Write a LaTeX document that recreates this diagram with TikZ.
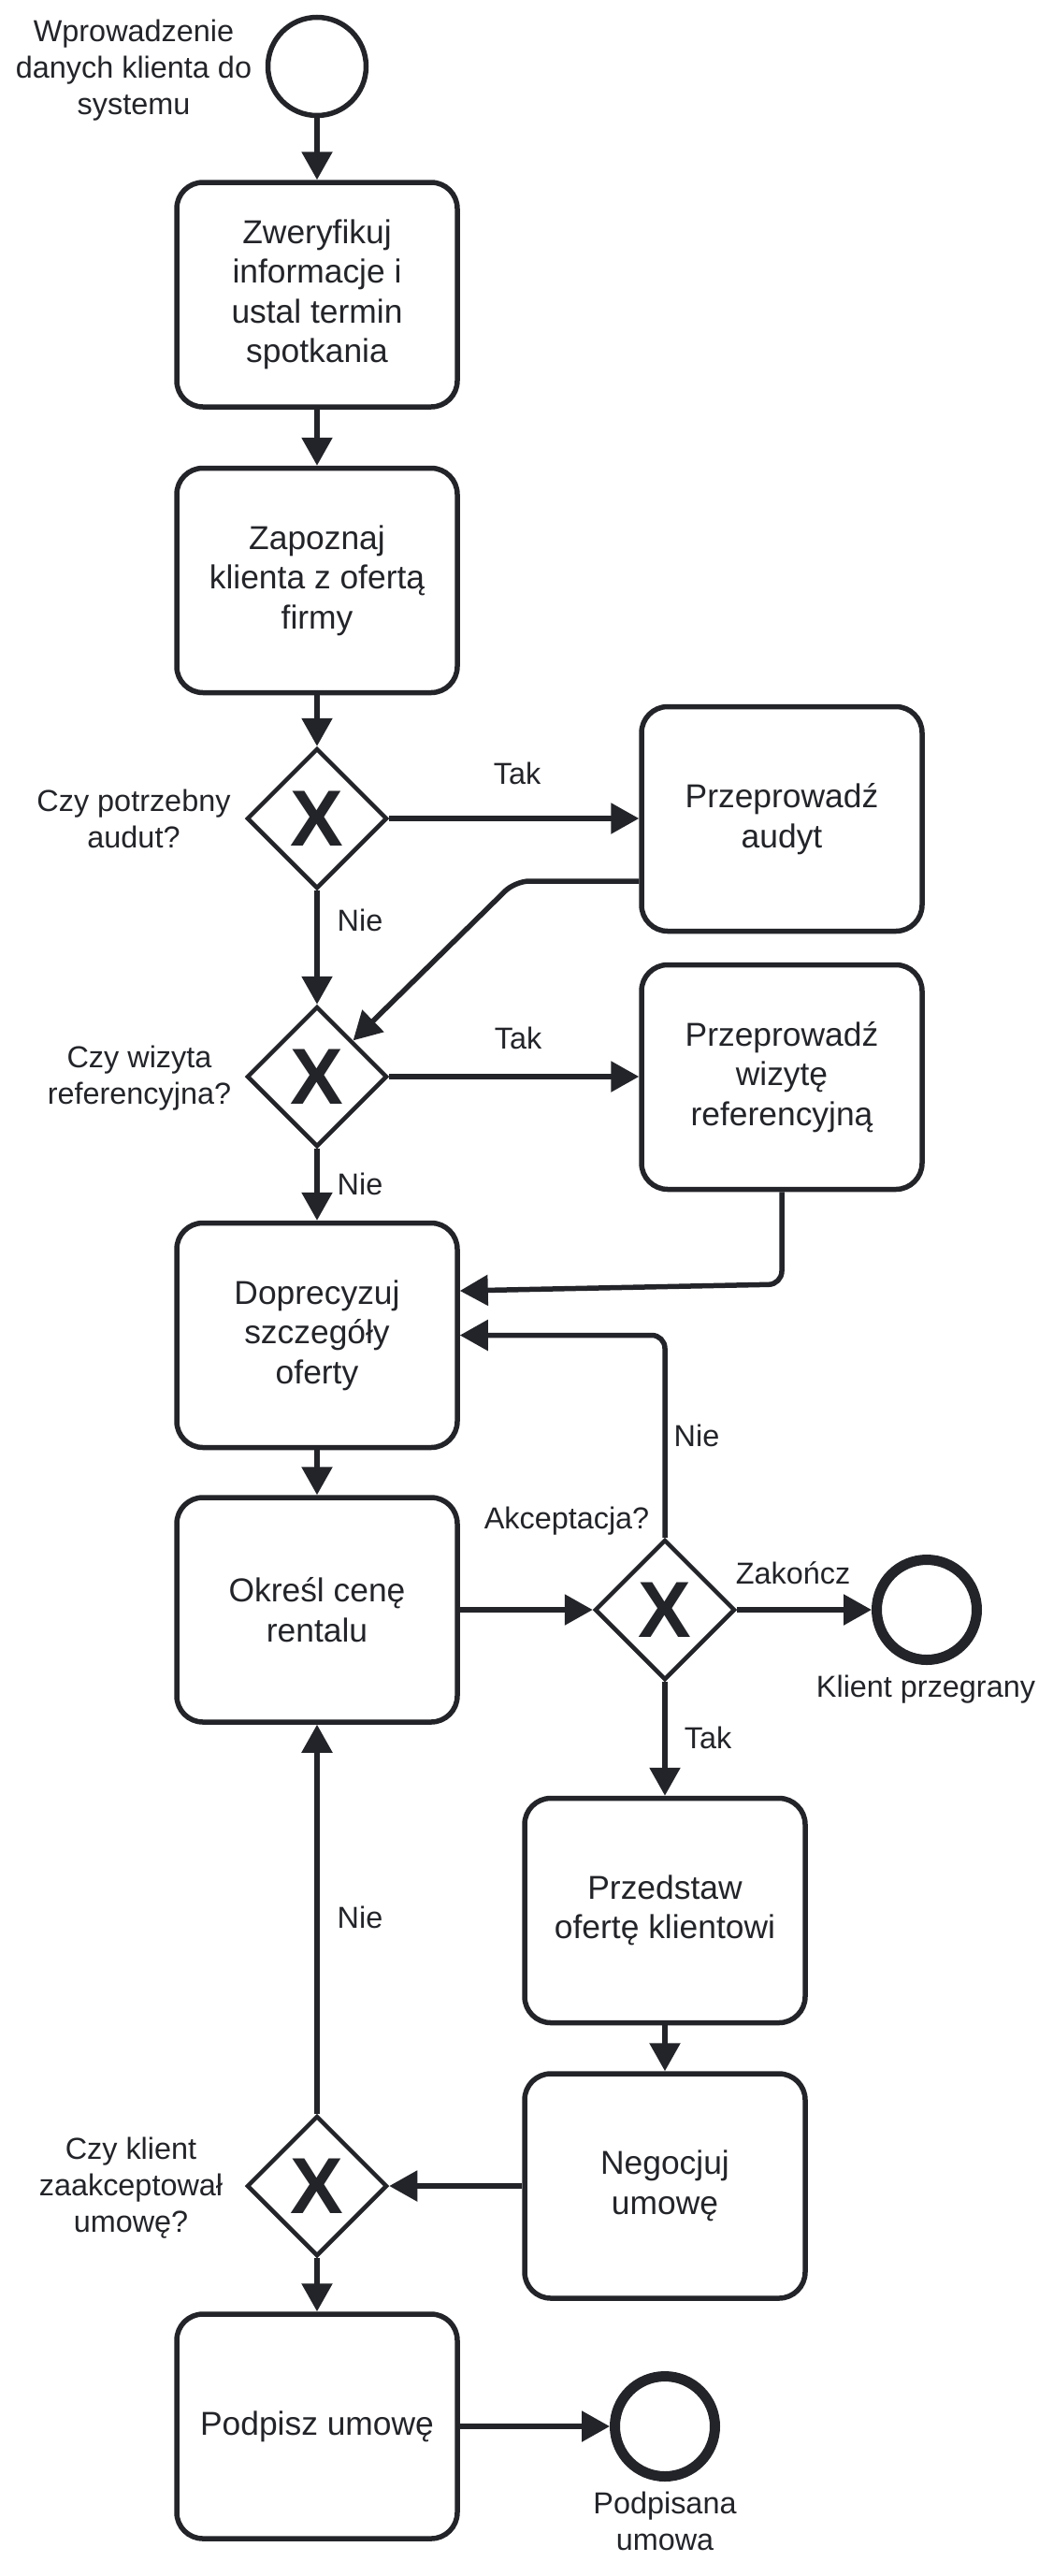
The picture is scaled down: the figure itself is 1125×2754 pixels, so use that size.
\documentclass[tikz,border=0pt]{standalone}
\usepackage{fontspec}
\setmainfont{Liberation Sans}
\usetikzlibrary{shapes.geometric,arrows.meta}
\definecolor{ink}{RGB}{35,36,41}
\tikzset{
  task/.style={draw=ink, line width=5.5pt, rounded corners=28pt, minimum width=300pt,
    minimum height=240pt, inner sep=0pt, align=center, text=ink,
    font=\fontsize{35.4}{42.5}\selectfont},
  gate/.style={draw=ink, line width=4.5pt, diamond, aspect=1, minimum width=150pt,
    minimum height=150pt, inner sep=0pt, text=ink,
    font=\fontsize{85}{85}\selectfont\bfseries},
  startev/.style={draw=ink, circle, line width=5.5pt, minimum size=105pt, inner sep=0pt},
  endev/.style={draw=ink, circle, line width=11pt, minimum size=107pt, inner sep=0pt},
  lbl/.style={text=ink, align=center, inner sep=0pt, font=\fontsize{32.4}{38.9}\selectfont},
  flow/.style={draw=ink, line width=5.5pt, -{Triangle[length=30pt,width=32pt]}},
}
\begin{document}
\begin{tikzpicture}[x=1pt,y=-1pt]
    \fill[white] (0,0) rectangle (1125,2754);
    \useasboundingbox (0,0) rectangle (1125,2754);
    % Start event
    \node[startev] (start) at (339,71) {};
    \node[lbl] (startlbl) at (143,75.5) {Wprowadzenie\\danych klienta do\\systemu};

    % Main column
    \node[task] (verify) at (339,315) {Zweryfikuj\\informacje i\\ustal termin\\spotkania};
    \node[task] (offer) at (339,620.5) {Zapoznaj\\klienta z ofertą\\firmy};
    \node[gate] (gaudit) at (339,875) {X};
    \node[lbl] (gauditlbl) at (143,875) {Czy potrzebny\\audut?};
    \node[gate] (gvisit) at (339,1151) {X};
    \node[lbl] (gvisitlbl) at (149,1153) {Czy wizyta\\referencyjna?};
    \node[task] (refine) at (339,1427.5) {Doprecyzuj\\szczegóły\\oferty};
    \node[task] (price) at (339,1721) {Określ cenę\\rentalu};
    \node[gate] (gdeal) at (339,2337) {X};
    \node[lbl] (gdeallbl) at (140,2339) {Czy klient\\zaakceptował\\umowę?};
    \node[task] (sign) at (339,2594) {Podpisz umowę};

    % Side tasks
    \node[task] (audit) at (836,875.5) {Przeprowadź\\audyt};
    \node[task] (visit) at (836,1151.5) {Przeprowadź\\wizytę\\referencyjną};
    \node[gate] (gaccept) at (711,1721) {X};
    \node[lbl, anchor=base] (gacceptlbl) at (606,1634) {Akceptacja?};
    \node[task] (present) at (711,2042.5) {Przedstaw\\ofertę klientowi};
    \node[task] (negotiate) at (711,2337) {Negocjuj\\umowę};

    % End events
    \node[endev] (lost) at (991,1721) {};
    \node[lbl, anchor=base] (lostlbl) at (990,1814) {Klient przegrany};
    \node[endev] (signed) at (711,2594) {};
    \node[lbl] (signedlbl) at (711,2695) {Podpisana\\umowa};

    % Sequence flows
    \draw[flow] (start) -- (verify);
    \draw[flow] (verify) -- (offer);
    \draw[flow] (offer) -- (gaudit);
    \draw[flow] (gaudit.east) -- (audit.west |- gaudit.east);
    \draw[flow] (gaudit) -- (gvisit);
    \draw[flow, rounded corners=15pt] ([yshift=-66.5pt]audit.west) -- (551,942) -- (gvisit.north east);
    \draw[flow] (gvisit.east) -- (visit.west |- gvisit.east);
    \draw[flow] (gvisit) -- (refine);
    \draw[flow, rounded corners=14pt] (visit.south) -- (visit.south |- 0,1373) -- ([yshift=47.5pt]refine.east);
    \draw[flow] (refine) -- (price);
    \draw[flow] (price) -- (gaccept);
    \draw[flow] (gaccept) -- (lost);
    \draw[flow, rounded corners=14pt] (gaccept.north) -- (gaccept.north |- refine.east) -- (refine.east);
    \draw[flow] (gaccept) -- (present);
    \draw[flow] (present) -- (negotiate);
    \draw[flow] (negotiate) -- (gdeal);
    \draw[flow] (gdeal) -- (price);
    \draw[flow] (gdeal) -- (sign);
    \draw[flow] (sign) -- (signed);

    % Flow labels
    \node[lbl, anchor=base] (tak1) at (553,838) {Tak};
    \node[lbl, anchor=base] (nie1) at (385,995) {Nie};
    \node[lbl, anchor=base] (tak2) at (554,1121) {Tak};
    \node[lbl, anchor=base] (nie2) at (385,1277) {Nie};
    \node[lbl, anchor=base] (nie3) at (745,1546) {Nie};
    \node[lbl, anchor=base] (zak) at (848,1693) {Zakończ};
    \node[lbl, anchor=base] (tak3) at (757,1869) {Tak};
    \node[lbl, anchor=base] (nie4) at (385,2061) {Nie};
\end{tikzpicture}
\end{document}
